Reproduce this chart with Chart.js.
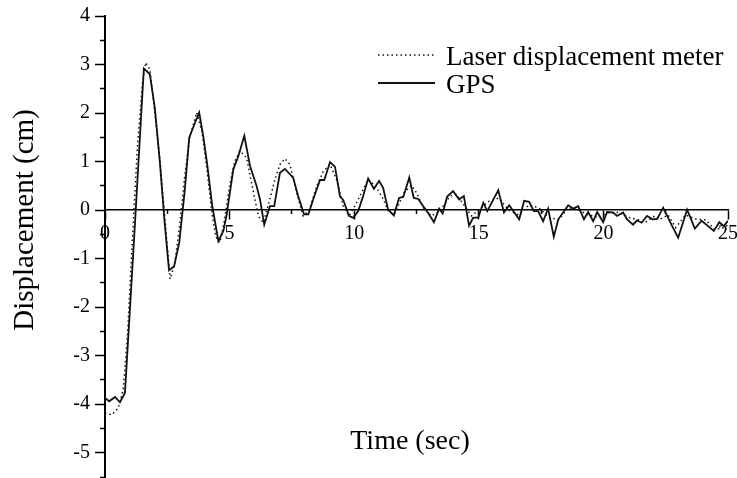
<!DOCTYPE html>
<html>
<head>
<meta charset="utf-8">
<script src="https://cdn.jsdelivr.net/npm/chart.js@4.4.0/dist/chart.umd.min.js"></script>
<style>
html, body { margin: 0; padding: 0; background: #fff; overflow: hidden; }
</style>
</head>
<body>
<canvas id="chart" width="737" height="478"></canvas>
<script>
// Laser displacement meter (dotted)
const laserTime = [
    0, 0.27, 0.53, 0.73, 0.9, 1.1, 1.3, 1.5, 1.63, 1.8,
    2.0, 2.2, 2.4, 2.61, 2.8, 3.0, 3.2, 3.4, 3.68, 3.9,
    4.1, 4.3, 4.45, 4.61, 4.8, 5.0, 5.2, 5.41, 5.68, 5.95,
    6.15, 6.35, 6.55, 6.82, 7.02, 7.22, 7.42, 7.69, 7.95, 8.2,
    8.5, 8.76, 9.03, 9.29, 9.56, 9.79, 10.09, 10.56, 10.85, 11.17,
    11.37, 11.6, 12.0, 12.3, 12.5, 12.77, 13.1, 13.44, 13.84, 14.1,
    14.44, 14.71, 15.1, 15.4, 15.8, 16.2, 16.6, 17.0, 17.4, 17.8,
    18.2, 18.6, 19.0, 19.4, 19.8, 20.2, 20.66, 21.0, 21.4, 21.66,
    22.06, 22.26, 22.6, 22.9, 23.3, 23.74, 24.1, 24.47, 24.87, 25.0
];
const laserDisp = [
    -4.18, -4.22, -4.08, -3.70, -2.6, -0.6, 1.3, 2.6, 3.04, 2.90,
    2.0, 1.05, -0.15, -1.42, -1.1, -0.3, 0.7, 1.5, 2.01, 1.6,
    0.8, -0.1, -0.55, -0.67, -0.2, 0.5, 1.0, 1.22, 1.08, 0.39,
    -0.12, -0.26, 0.1, 0.63, 0.94, 1.06, 0.94, 0.36, -0.12, 0.0,
    0.5, 0.80, 0.94, 0.63, 0.08, -0.12, 0.15, 0.63, 0.5, 0.22,
    -0.02, -0.09, 0.36, 0.51, 0.36, 0.05, -0.12, -0.02, 0.29, 0.32,
    0.08, -0.12, 0.05, 0.18, 0.25, 0.0, -0.1, 0.1, 0.05, -0.15,
    -0.2, 0.05, 0.0, -0.1, -0.15, -0.05, -0.05, -0.15, -0.2, -0.26,
    -0.12, -0.19, -0.1, -0.36, -0.1, -0.19, -0.2, -0.40, -0.36, -0.3
];

// GPS (solid)
const gpsTime = [
    0, 0.17, 0.4, 0.6, 0.8, 1.0, 1.2, 1.4, 1.56, 1.8,
    2.0, 2.2, 2.4, 2.57, 2.77, 2.98, 3.2, 3.38, 3.61, 3.78,
    3.95, 4.1, 4.3, 4.55, 4.75, 4.88, 5.15, 5.35, 5.59, 5.82,
    6.08, 6.22, 6.39, 6.62, 6.79, 7.02, 7.22, 7.55, 7.75, 7.99,
    8.16, 8.4, 8.63, 8.8, 9.03, 9.23, 9.43, 9.56, 9.79, 9.96,
    10.16, 10.36, 10.56, 10.79, 11.0, 11.16, 11.36, 11.59, 11.8, 11.97,
    12.21, 12.39, 12.57, 12.77, 12.97, 13.2, 13.41, 13.55, 13.73, 13.97,
    14.21, 14.4, 14.61, 14.77, 14.98, 15.18, 15.34, 15.78, 16.01, 16.22,
    16.62, 16.82, 17.02, 17.21, 17.38, 17.58, 17.78, 18.01, 18.19, 18.59,
    18.79, 18.99, 19.22, 19.39, 19.59, 19.75, 19.99, 20.15, 20.39, 20.55,
    20.79, 20.95, 21.19, 21.35, 21.53, 21.75, 21.97, 22.16, 22.4, 22.73,
    23.0, 23.36, 23.67, 23.94, 24.2, 24.43, 24.65, 24.83, 25.0
];
const gpsDisp = [
    -3.87, -3.94, -3.85, -3.96, -3.77, -2.05, -0.3, 1.5, 2.92, 2.80,
    2.1, 1.0, -0.3, -1.24, -1.16, -0.67, 0.4, 1.49, 1.80, 2.01,
    1.5, 0.95, 0.1, -0.64, -0.43, -0.1, 0.84, 1.11, 1.53, 0.91,
    0.50, 0.22, -0.30, 0.08, 0.08, 0.77, 0.85, 0.67, 0.29, -0.09,
    -0.09, 0.29, 0.62, 0.62, 0.99, 0.89, 0.28, 0.21, -0.12, -0.16,
    -0.02, 0.29, 0.65, 0.44, 0.60, 0.46, 0.01, -0.11, 0.25, 0.27,
    0.67, 0.25, 0.23, 0.08, -0.06, -0.25, 0.03, -0.07, 0.28, 0.39,
    0.22, 0.29, -0.32, -0.16, -0.15, 0.15, -0.02, 0.41, -0.05, 0.10,
    -0.19, 0.19, 0.17, -0.02, -0.02, -0.23, 0.03, -0.55, -0.19, 0.10,
    0.03, 0.08, -0.19, -0.04, -0.23, -0.04, -0.25, -0.04, -0.05, -0.12,
    -0.05, -0.19, -0.30, -0.21, -0.26, -0.12, -0.19, -0.18, 0.05, -0.30,
    -0.57, 0.01, -0.38, -0.22, -0.33, -0.43, -0.25, -0.33, -0.22
];

const xTicks = [0, 5, 10, 15, 20, 25];
const xMinorTicks = [2.5, 7.5, 12.5, 17.5, 22.5];
const yTicks = [-5, -4, -3, -2, -1, 0, 1, 2, 3, 4];
const yMinorTicks = [-5.5, -4.5, -3.5, -2.5, -1.5, -0.5, 0.5, 1.5, 2.5, 3.5];
const seriesNames = ["Laser displacement meter", "GPS"];
const xTitle = "Time (sec)";
const yTitle = "Displacement (cm)";

const serif = "'Liberation Serif', 'Times New Roman', serif";
Chart.defaults.font.family = serif;
Chart.defaults.color = "#000";

function toPoints(xs, ys) {
    return xs.map((x, i) => ({x: x, y: ys[i]}));
}

function setTicks(values) {
    return function(scale) {
        scale.ticks = values.map(v => ({value: v}));
    };
}

// no extra layout padding from edge labels
function noEdgePadding(scale) {
    scale.paddingTop = 0;
    scale.paddingBottom = 0;
    scale.paddingLeft = 0;
    scale.paddingRight = 0;
}

// legend and axis titles, drawn like the paper figure
const paperText = {
    id: "paperText",
    afterDraw(chart) {
        const ctx = chart.ctx;
        ctx.save();
        ctx.fillStyle = "#000";

        // legend
        chart.data.datasets.forEach((ds, i) => {
            const y = 55 + i * 28;
            ctx.strokeStyle = ds.borderColor;
            ctx.lineWidth = ds.borderWidth;
            ctx.setLineDash(ds.borderDash || []);
            ctx.beginPath();
            ctx.moveTo(378, y);
            ctx.lineTo(435, y);
            ctx.stroke();
            ctx.setLineDash([]);
            ctx.font = "27px " + serif;
            ctx.textAlign = "left";
            ctx.textBaseline = "alphabetic";
            ctx.fillText(ds.label, 446, y + 10);
        });

        // x title
        ctx.font = "28px " + serif;
        ctx.textAlign = "center";
        ctx.textBaseline = "alphabetic";
        ctx.fillText(xTitle, 410, 449);

        // y title
        ctx.translate(25, 220);
        ctx.rotate(-Math.PI / 2);
        ctx.font = "29px " + serif;
        ctx.textBaseline = "middle";
        ctx.fillText(yTitle, 0, 0);
        ctx.restore();
    }
};

const tickFont = {family: serif, size: 20};

new Chart(document.getElementById("chart"), {
    type: "line",
    data: {
        datasets: [
            {
                label: seriesNames[0],
                data: toPoints(laserTime, laserDisp),
                borderColor: "#111",
                borderWidth: 1.5,
                borderDash: [1.5, 3],
                pointRadius: 0,
                tension: 0,
                xAxisID: "x",
                yAxisID: "y",
            },
            {
                label: seriesNames[1],
                data: toPoints(gpsTime, gpsDisp),
                borderColor: "#111",
                borderWidth: 1.8,
                pointRadius: 0,
                tension: 0,
                xAxisID: "x",
                yAxisID: "y",
            }
        ]
    },
    options: {
        responsive: false,
        animation: false,
        events: [],
        layout: {
            padding: {left: 0, right: 9, top: 16, bottom: 1}
        },
        plugins: {
            legend: {display: false},
            tooltip: {enabled: false},
        },
        scales: {
            x: {
                type: "linear",
                position: {y: 0},
                min: 0,
                max: 25,
                afterBuildTicks: setTicks(xTicks),
                afterFit: noEdgePadding,
                grid: {
                    drawOnChartArea: false,
                    tickLength: 9,
                    tickWidth: 1.5,
                    color: "#000",
                },
                border: {color: "#000", width: 1.5},
                ticks: {
                    font: tickFont,
                    color: "#000",
                    padding: 3,
                    maxRotation: 0,
                    autoSkip: false,
                },
            },
            xMinor: {
                type: "linear",
                axis: "x",
                position: {y: 0},
                min: 0,
                max: 25,
                afterBuildTicks: setTicks(xMinorTicks),
                afterFit: noEdgePadding,
                grid: {
                    drawOnChartArea: false,
                    tickLength: 4,
                    tickWidth: 1.5,
                    color: "#000",
                },
                border: {display: false},
                ticks: {display: false},
            },
            y: {
                type: "linear",
                position: "left",
                min: -5.5,
                max: 4,
                afterBuildTicks: setTicks(yTicks),
                afterFit: function(scale) {
                    noEdgePadding(scale);
                    scale.width = 105;
                },
                grid: {
                    drawOnChartArea: false,
                    tickLength: 10,
                    tickWidth: 1.5,
                    color: "#000",
                },
                border: {color: "#000", width: 2},
                ticks: {
                    font: tickFont,
                    color: "#000",
                    padding: 5,
                },
            },
            yMinor: {
                type: "linear",
                axis: "y",
                position: {x: 0},
                min: -5.5,
                max: 4,
                afterBuildTicks: setTicks(yMinorTicks),
                afterFit: noEdgePadding,
                grid: {
                    drawOnChartArea: false,
                    tickLength: 5,
                    tickWidth: 1.5,
                    color: "#000",
                },
                border: {display: false},
                ticks: {display: false},
            },
        }
    },
    plugins: [paperText]
});
</script>
</body>
</html>
